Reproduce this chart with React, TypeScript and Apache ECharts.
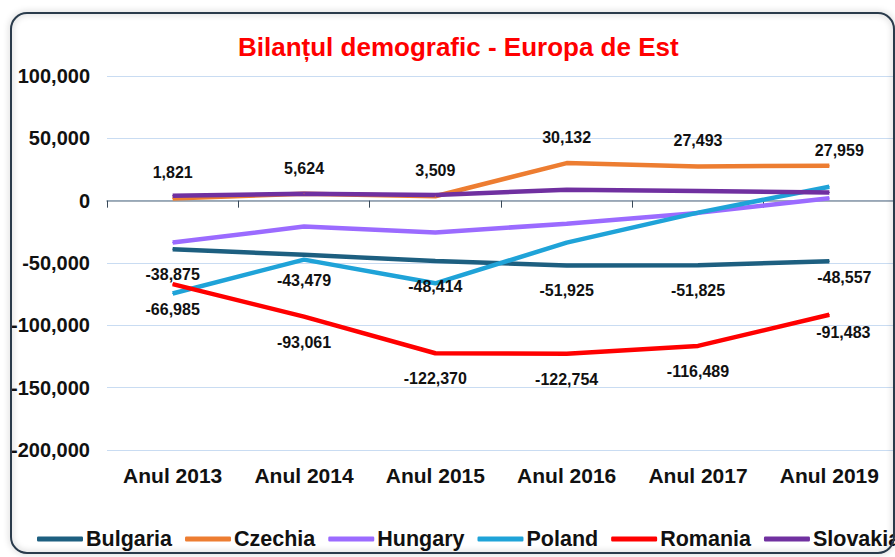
import React, { useEffect, useRef } from "react";
import * as echarts from "echarts";

const categories = ["Anul 2013", "Anul 2014", "Anul 2015", "Anul 2016", "Anul 2017", "Anul 2019"];
const bulgaria = [-38875, -43479, -48414, -51925, -51825, -48557];
const czechia = [1821, 5624, 3509, 30132, 27493, 27959];
const hungary = [-33600, -20800, -25500, -18500, -9800, 2000];
const poland = [-74500, -47300, -66300, -33700, -9600, 11200];
const romania = [-66985, -93061, -122370, -122754, -116489, -91483];
const slovakia = [4000, 5500, 4600, 8700, 7800, 6600];

const FONT = "'Liberation Sans', Arial, sans-serif";

function fmt(v: number) {
  return v.toLocaleString("en-US");
}

export default function App() {
  const ref = useRef<HTMLDivElement>(null);
  useEffect(() => {
    const chart = echarts.init(ref.current!, undefined, { renderer: "svg" });
    const labelBase = {
      show: true,
      fontFamily: FONT,
      fontWeight: "bold" as const,
      fontSize: 16,
      color: "#111",
      formatter: (p: any) => fmt(p.value),
    };
    const mk = (
      name: string,
      values: number[],
      color: string,
      label?: { pos: "top" | "bottom"; lastOffset: number[] }
    ) => ({
      name,
      type: "line",
      xAxisIndex: 0,
      symbol: "circle",
      symbolSize: 1,
      lineStyle: { color, width: 4.5 },
      itemStyle: { color },
      label: label
        ? { ...labelBase, position: label.pos, distance: 17 }
        : { show: false },
      data: values.map((v, i) =>
        label && i === values.length - 1
          ? { value: v, label: { offset: label.lastOffset } }
          : v
      ),
    });
    chart.setOption({
      animation: false,
      backgroundColor: "#fff",
      title: {
        text: "Bilanțul demografic - Europa de Est",
        left: 233,
        top: 29,
        textStyle: { color: "#ff0000", fontFamily: FONT, fontWeight: "bold", fontSize: 26 },
      },
      graphic: [
        {
          type: "rect",
          shape: { x: 11, y: 13, width: 883, height: 540, r: 16 },
          style: {
            fill: "none",
            stroke: "#2a3b4c",
            lineWidth: 2,
            shadowBlur: 6,
            shadowColor: "rgba(0,0,0,0.3)",
          },
          silent: true,
          z: 100,
        },
      ],
      legend: {
        left: 32,
        top: 523,
        width: 1200,
        itemWidth: 46,
        itemHeight: 5,
        itemGap: 13,
        icon: "roundRect",
        textStyle: { fontFamily: FONT, fontWeight: "bold", fontSize: 21.5, color: "#111", padding: [0, 0, 0, -2] },
        data: ["Bulgaria", "Czechia", "Hungary", "Poland", "Romania", "Slovakia"],
      },
      grid: { left: 107, right: -11, top: 76, bottom: 107 },
      xAxis: [
        {
          type: "category",
          data: categories,
          axisLine: { onZero: true, lineStyle: { color: "#8796a5", width: 1.5 } },
          axisTick: { show: true, length: 7, lineStyle: { color: "#3a4a5a" } },
          axisLabel: { show: false },
          splitLine: { show: false },
        },
        {
          type: "category",
          data: categories,
          position: "bottom",
          axisLine: { show: false, onZero: false },
          axisTick: { show: false },
          axisLabel: { fontFamily: FONT, fontWeight: "bold", fontSize: 21, color: "#111", margin: 15 },
          splitLine: { show: false },
        },
      ],
      yAxis: {
        type: "value",
        min: -200000,
        max: 100000,
        interval: 50000,
        axisLine: { show: false },
        axisTick: { show: false },
        axisLabel: {
          fontFamily: FONT,
          fontWeight: "bold",
          fontSize: 20,
          color: "#111",
          margin: 17,
          formatter: (v: number) => fmt(v),
        },
        splitLine: { lineStyle: { color: "#c9dcf2", width: 1 } },
      },
      series: [
        mk("Bulgaria", bulgaria, "#1d5f80", { pos: "bottom", lastOffset: [15, -9] }),
        mk("Czechia", czechia, "#ed7d31", { pos: "top", lastOffset: [10, 10] }),
        mk("Hungary", hungary, "#9b6bff"),
        mk("Poland", poland, "#1fa3d8"),
        mk("Romania", romania, "#ff0000", { pos: "bottom", lastOffset: [14, -8] }),
        mk("Slovakia", slovakia, "#7030a0"),
      ],
    });
    return () => chart.dispose();
  }, []);
  return (
    <div
      ref={ref}
      style={{ position: "fixed", left: 0, top: 0, width: 895, height: 557 }}
    />
  );
}
